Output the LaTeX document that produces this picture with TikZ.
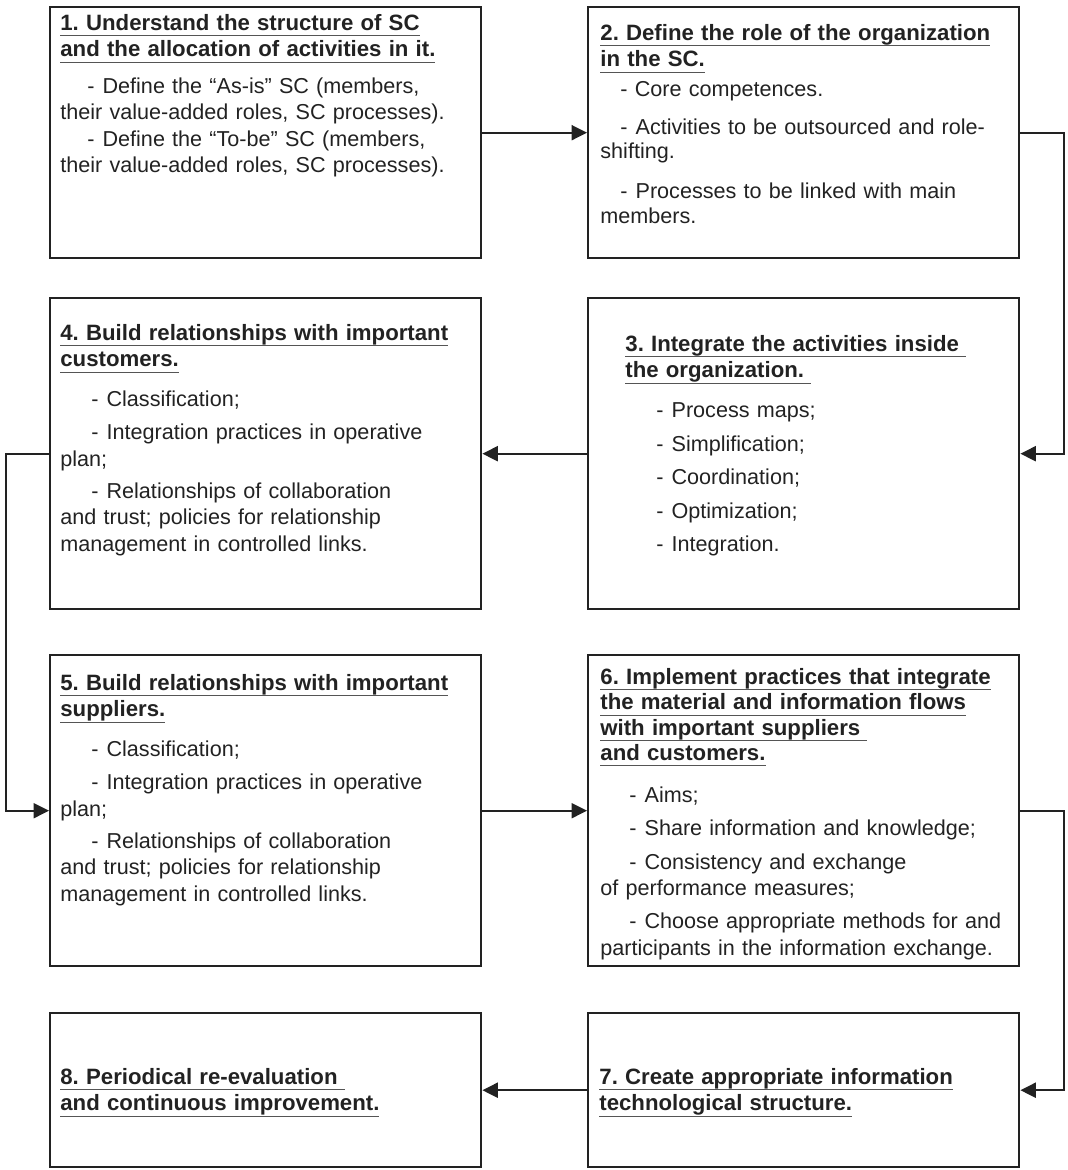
\documentclass[tikz,border=0pt]{standalone}
\usepackage{fontspec}
\setmainfont{Liberation Sans}
\usetikzlibrary{arrows.meta}

\definecolor{ink}{HTML}{222222}
\definecolor{bodyink}{HTML}{333333}
\definecolor{ulgray}{HTML}{555555}
\setlength{\parindent}{0pt}
\frenchspacing

% underlined heading line and indented dash
\newcommand\stephead[1]{\leavevmode\strut\setbox0=\hbox{\fontsize{11.1}{13.25}\selectfont\bfseries\color{ink}#1}\rlap{\color{ulgray}\rule[-3pt]{\wd0}{0.6pt}}\box0}
\newcommand\stepdash[1][13.5pt]{\hspace*{#1}-\hspace{4pt}}

\tikzset{%
        stepbox/.style={
                draw=ink,
                line width=1.2pt,
                rectangle,
                anchor=north west,
                inner sep=0pt,
                minimum width=215.5pt
            },
        steptext/.style={
                anchor=north west,
                inner sep=0pt,
                text width=208pt,
                align=left,
                text=bodyink,
                font=\fontsize{10.8}{13.25}\selectfont
            },
        conn/.style={
                draw=ink,
                line width=1pt,
                -{Triangle[length=7.7pt,width=7.5pt]}
            }
    }

\begin{document}
\begin{tikzpicture}[x=0.5pt, y=-0.5pt]
    \useasboundingbox (0,0) rectangle (1067,1170);

    % boxes:
        \node [stepbox, minimum height=125.5pt] (s1) at (49,6) {};
        \node [stepbox, minimum height=125.5pt] (s2) at (587,6) {};
        \node [stepbox, minimum height=155.5pt] (s3) at (587,297) {};
        \node [stepbox, minimum height=155.5pt] (s4) at (49,297) {};
        \node [stepbox, minimum height=155.5pt] (s5) at (49,654) {};
        \node [stepbox, minimum height=155.5pt] (s6) at (587,654) {};
        \node [stepbox, minimum height=77pt] (s7) at (587,1012) {};
        \node [stepbox, minimum height=77pt] (s8) at (49,1012) {};

    % texts:
        \node [steptext] (t1) at (60,11.5) {\stephead{1. Understand the structure of SC}\\
            \stephead{and the allocation of activities in it.}\\[5pt]
            \stepdash Define the “As-is” SC (members,\\
            their value-added roles, SC processes).\\
            \stepdash Define the “To-be” SC (members,\\
            their value-added roles, SC processes).};
        \node [steptext] (t2) at (600,21.5) {\stephead{2. Define the role of the organization}\\
            \stephead{in the SC.}\\[1.75pt]
            \hspace*{10pt}- Core competences.\\[5.75pt]
            \stepdash[10pt]Activities to be outsourced and role-\\[-1.25pt]
            shifting.\\[6.75pt]
            \stepdash[10pt]Processes to be linked with main\\[-0.75pt]
            members.};
        \node [steptext] (t3) at (625,332.5) {\stephead{3. Integrate the activities inside\ }\\
            \stephead{the organization.\ }\\[6.75pt]
            \stepdash[15.5pt]Process maps;\\[3.5pt]
            \stepdash[15.5pt]Simplification;\\[3.5pt]
            \stepdash[15.5pt]Coordination;\\[3.5pt]
            \stepdash[15.5pt]Optimization;\\[3.5pt]
            \stepdash[15.5pt]Integration.};
        \node [steptext] (t4) at (60,321.5) {\stephead{4. Build relationships with important}\\
            \stephead{customers.}\\[6.75pt]
            \stepdash[15.5pt]Classification;\\[3.25pt]
            \stepdash[15.5pt]Integration practices in operative\\
            plan;\\[2.75pt]
            \stepdash[15.5pt]Relationships of collaboration\\
            and trust; policies for relationship\\
            management in controlled links.};
        \node [steptext] (t5) at (60,671.5) {\stephead{5. Build relationships with important}\\
            \stephead{suppliers.}\\[6.75pt]
            \stepdash[15.5pt]Classification;\\[3.25pt]
            \stepdash[15.5pt]Integration practices in operative\\
            plan;\\[2.75pt]
            \stepdash[15.5pt]Relationships of collaboration\\
            and trust; policies for relationship\\
            management in controlled links.};
        \node [steptext] (t6) at (600,665.5) {\stephead{6. Implement practices that integrate}\\[-0.6pt]
            \stephead{the material and information flows}\\[-0.6pt]
            \stephead{with important suppliers\ }\\[-0.6pt]
            \stephead{and customers.}\\[7.75pt]
            \stepdash[14.5pt]Aims;\\[3.25pt]
            \stepdash[14.5pt]Share information and knowledge;\\[3.75pt]
            \stepdash[14.5pt]Consistency and exchange\\
            of performance measures;\\[3.25pt]
            \stepdash[14.5pt]Choose appropriate methods for and\\
            participants in the information exchange.};
        \node [steptext] (t7) at (599,1065.5) {\stephead{7. Create appropriate information}\\
            \stephead{technological structure.}};
        \node [steptext] (t8) at (60,1065.5) {\stephead{8. Periodical re-evaluation\ }\\
            \stephead{and continuous improvement.}};

    % connectors:
        \draw [conn] (s1) -- (s2);
        \draw [conn] (s2.east) -- ++(44,0) |- (s3.east);
        \draw [conn] (s3) -- (s4);
        \draw [conn] (s4.west) -- ++(-43,0) |- (s5.west);
        \draw [conn] (s5) -- (s6);
        \draw [conn] (s6.east) -- ++(44,0) |- (s7.east);
        \draw [conn] (s7) -- (s8);
\end{tikzpicture}
\end{document}
